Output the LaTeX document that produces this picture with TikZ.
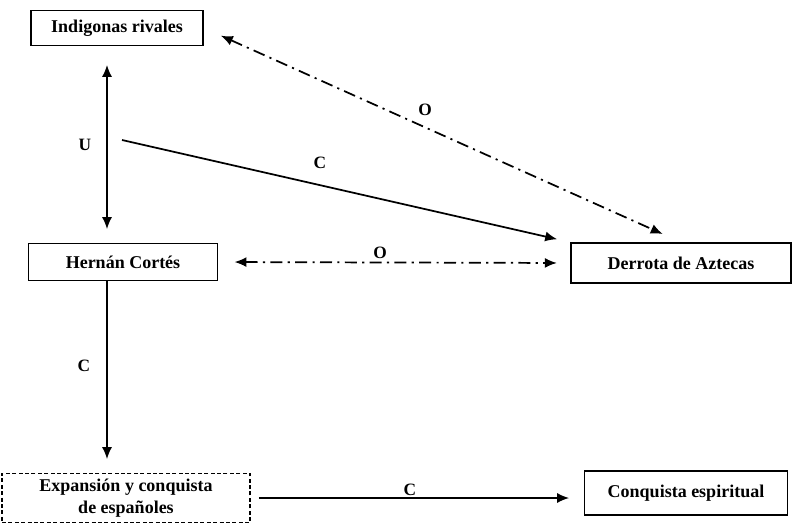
\documentclass[tikz,border=0pt]{standalone}
\usepackage{fontspec}
\setmainfont{Liberation Serif}
\usetikzlibrary{arrows.meta}
\begin{document}
\begin{tikzpicture}[x=0.75pt,y=-0.75pt,
  every node/.style={font=\bfseries\fontsize{13.5}{16}\selectfont},
  box/.style={draw,line width=1.2pt,inner sep=0pt,align=center},
  dbox/.style={box,dashed,dash pattern=on 3pt off 1.8pt},
  link/.style={line width=1.3pt,-{Latex[length=9pt,width=7.5pt]}},
  twoway/.style={line width=1.3pt,{Latex[length=9pt,width=7.5pt]}-{Latex[length=9pt,width=7.5pt]}},
  dlink/.style={twoway,dash pattern=on 9pt off 4pt on 1.6pt off 4pt},
  tag/.style={font=\bfseries\fontsize{13}{15}\selectfont}]
\useasboundingbox (0,0) rectangle (794,526);

% boxes
\node[box,minimum width=129pt,minimum height=26pt] (ind) at (117,28) {Indigonas rivales};
\node[box,minimum width=142pt,minimum height=28pt] (her) at (123,262) {Hernán Cortés};
\node[box,minimum width=165pt,minimum height=30pt] (der) at (681,263) {Derrota de Aztecas};
\node[dbox,minimum width=186pt,minimum height=37pt] (exp) at (126,498) {Expansión y conquista\\de españoles};
\node[box,minimum width=152pt,minimum height=33pt] (con) at (686,493) {Conquista espiritual};

% reference points
\coordinate (axis) at (107,0);
\coordinate (cstart) at (122,140);

% connectors
\draw[twoway,shorten <=14pt,shorten >=10pt] (ind.south -| axis) -- (her.north -| axis);
\draw[link,shorten >=10pt] (cstart) -- (der.north west);
\draw[dlink,shorten <=14pt,shorten >=15pt] (ind.east) -- (der.north);
\draw[dlink,shorten <=12pt,shorten >=10pt] (her.east) -- (der.west);
\draw[link,shorten >=10pt] (her.south -| axis) -- (exp.north -| axis);
\draw[link,shorten <=6pt,shorten >=11pt] (exp.east) -- (exp.east -| con.west);

% relation labels
\node[tag] (lu) at (85,145) {U};
\node[tag] (lc1) at (320,163) {C};
\node[tag] (lo1) at (425,110) {O};
\node[tag] (lo2) at (380,253) {O};
\node[tag] (lc2) at (84,366) {C};
\node[tag] (lc3) at (410,490) {C};
\end{tikzpicture}
\end{document}
